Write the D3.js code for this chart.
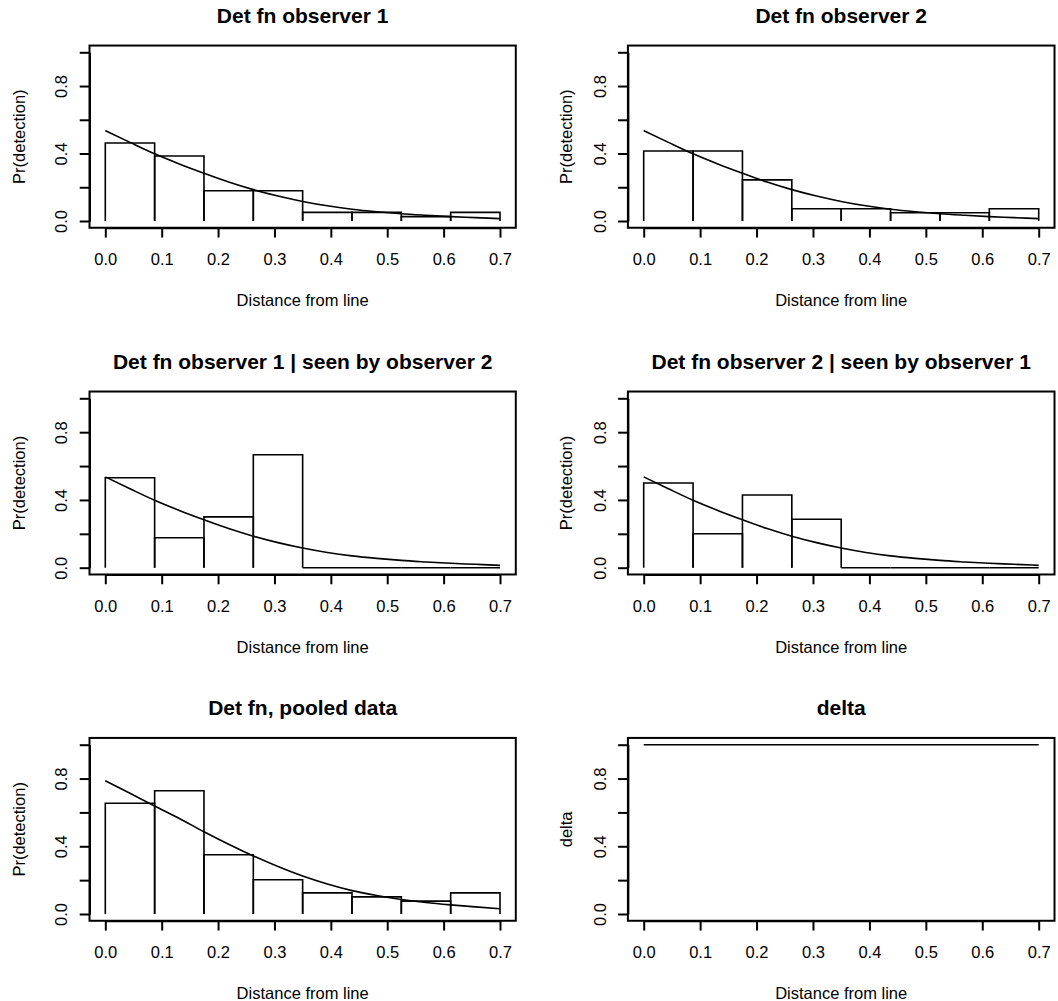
<!DOCTYPE html>
<html>
<head>
<meta charset="utf-8">
<script src="https://cdn.jsdelivr.net/npm/d3@7"></script>
<style>
  body { margin: 0; background: #fff; }
  svg { display: block; font-family: "Liberation Sans", Arial, Helvetica, sans-serif; }
</style>
</head>
<body>
<svg id="chart" width="1058" height="1001"></svg>
<script>
// bin breaks shared by all histograms
var breaks = [0, 0.0875, 0.175, 0.2625, 0.35, 0.4375, 0.525, 0.6125, 0.7];

// observed proportions per bin
var obs1Props = [0.462, 0.385, 0.179, 0.179, 0.051, 0.051, 0.026, 0.051];
var obs2Props = [0.415, 0.415, 0.244, 0.073, 0.073, 0.049, 0.049, 0.073];
var obs1GivenObs2 = [0.531, 0.177, 0.300, 0.667, 0, 0, 0, 0];
var obs2GivenObs1 = [0.500, 0.200, 0.429, 0.286, 0, 0, 0, 0];
var pooledProps = [0.654, 0.728, 0.350, 0.202, 0.125, 0.101, 0.076, 0.125];

// fitted detection function
var curveX = [0, 0.04375, 0.0875, 0.13125, 0.175, 0.21875, 0.2625, 0.30625, 0.35,
              0.39375, 0.4375, 0.48125, 0.525, 0.56875, 0.6125, 0.65625, 0.7];
var singleFit = [0.536, 0.466, 0.398, 0.338, 0.283, 0.231, 0.186, 0.148, 0.116,
                 0.090, 0.070, 0.055, 0.043, 0.034, 0.026, 0.020, 0.014];
var pooledFit = [0.787, 0.713, 0.638, 0.564, 0.486, 0.412, 0.343, 0.280, 0.224,
                 0.177, 0.138, 0.109, 0.086, 0.068, 0.054, 0.042, 0.031];

var deltaX = [0, 0.7];
var deltaY = [1, 1];

var xTicks = [0, 0.1, 0.2, 0.3, 0.4, 0.5, 0.6, 0.7];
var yTicks = [0, 0.2, 0.4, 0.6, 0.8, 1.0];
var yLabelled = [0, 0.4, 0.8];

var titles = ["Det fn observer 1", "Det fn observer 2",
              "Det fn observer 1 | seen by observer 2", "Det fn observer 2 | seen by observer 1",
              "Det fn, pooled data", "delta"];

var cols = [
  {x0: 105.3, x1: 500.0, tickLab: 66.7, ylab: 25.3},
  {x0: 643.7, x1: 1038.7, tickLab: 605.6, ylab: 571.7}
];
var rows = [
  {y0: 221.0, y1: 52.3},
  {y0: 567.7, y1: 398.3},
  {y0: 914.0, y1: 744.7}
];

var panels = [
  {props: obs1Props, fit: singleFit, ylab: "Pr(detection)"},
  {props: obs2Props, fit: singleFit, ylab: "Pr(detection)"},
  {props: obs1GivenObs2, fit: singleFit, ylab: "Pr(detection)"},
  {props: obs2GivenObs1, fit: singleFit, ylab: "Pr(detection)"},
  {props: pooledProps, fit: pooledFit, ylab: "Pr(detection)"},
  {props: null, fit: null, ylab: "delta"}
];

var svg = d3.select("#chart");
var tickLen = 9.8;

panels.forEach(function(p, i) {
  var c = cols[i % 2], r = rows[Math.floor(i / 2)];
  var x = d3.scaleLinear().domain([0, 0.7]).range([c.x0, c.x1]);
  var y = d3.scaleLinear().domain([0, 1]).range([r.y0, r.y1]);
  var left = x(-0.028), right = x(0.728), top = y(1.04), bottom = y(-0.04);

  var g = svg.append("g");

  // histogram drawn as open polylines, like histline()
  if (p.props) {
    var bar = d3.line().x(function(d) { return x(d[0]); }).y(function(d) { return y(d[1]); });
    p.props.forEach(function(h, k) {
      var a = breaks[k], b = breaks[k + 1];
      g.append("path")
        .attr("d", bar([[a, 0], [a, h], [b, h], [b, 0]]))
        .attr("fill", "none").attr("stroke", "#000").attr("stroke-width", 1.6);
    });
  }

  var line = d3.line()
    .x(function(d) { return x(d[0]); })
    .y(function(d) { return y(d[1]); });

  if (p.fit) {
    line.curve(d3.curveMonotoneX);
    g.append("path")
      .attr("d", line(curveX.map(function(v, k) { return [v, p.fit[k]]; })))
      .attr("fill", "none").attr("stroke", "#000").attr("stroke-width", 1.6);
  } else {
    g.append("path")
      .attr("d", line(deltaX.map(function(v, k) { return [v, deltaY[k]]; })))
      .attr("fill", "none").attr("stroke", "#000").attr("stroke-width", 1.6);
  }

  // box
  g.append("rect")
    .attr("x", left).attr("y", top)
    .attr("width", right - left).attr("height", bottom - top)
    .attr("fill", "none").attr("stroke", "#000").attr("stroke-width", 2);

  // x axis
  var xa = g.append("g")
    .attr("transform", "translate(0," + bottom + ")")
    .call(d3.axisBottom(x).tickValues(xTicks).tickSize(tickLen).tickSizeOuter(0)
      .tickFormat(d3.format(".1f")));
  xa.select(".domain").attr("stroke-width", 2);
  xa.selectAll(".tick line").attr("stroke-width", 2);
  xa.selectAll(".tick text")
    .attr("y", 37.5).attr("dy", null)
    .attr("font-size", "16.5px").attr("fill", "#000");

  // y axis, labels rotated like R's default las=0
  var ya = g.append("g")
    .attr("transform", "translate(" + left + ",0)")
    .call(d3.axisLeft(y).tickValues(yTicks).tickSize(tickLen).tickSizeOuter(0)
      .tickFormat(function(d) {
        return yLabelled.some(function(v) { return Math.abs(v - d) < 1e-9; }) ? d3.format(".1f")(d) : "";
      }));
  ya.select(".domain").attr("stroke-width", 2);
  ya.selectAll(".tick line").attr("stroke-width", 2);
  ya.selectAll(".tick text")
    .attr("transform", "rotate(-90)")
    .attr("x", 0).attr("y", c.tickLab - left).attr("dy", null)
    .attr("text-anchor", "middle")
    .attr("font-size", "16.5px").attr("fill", "#000");

  // title and axis titles
  g.append("text")
    .attr("x", (left + right) / 2).attr("y", top - 22.6)
    .attr("text-anchor", "middle")
    .attr("font-size", "21px").attr("font-weight", "bold")
    .text(titles[i]);

  g.append("text")
    .attr("x", (left + right) / 2).attr("y", bottom + 78.7)
    .attr("text-anchor", "middle")
    .attr("font-size", "16.5px")
    .text("Distance from line");

  g.append("text")
    .attr("transform", "translate(" + c.ylab + "," + ((top + bottom) / 2) + ") rotate(-90)")
    .attr("text-anchor", "middle")
    .attr("font-size", "16.5px")
    .text(p.ylab);
});
</script>
</body>
</html>
